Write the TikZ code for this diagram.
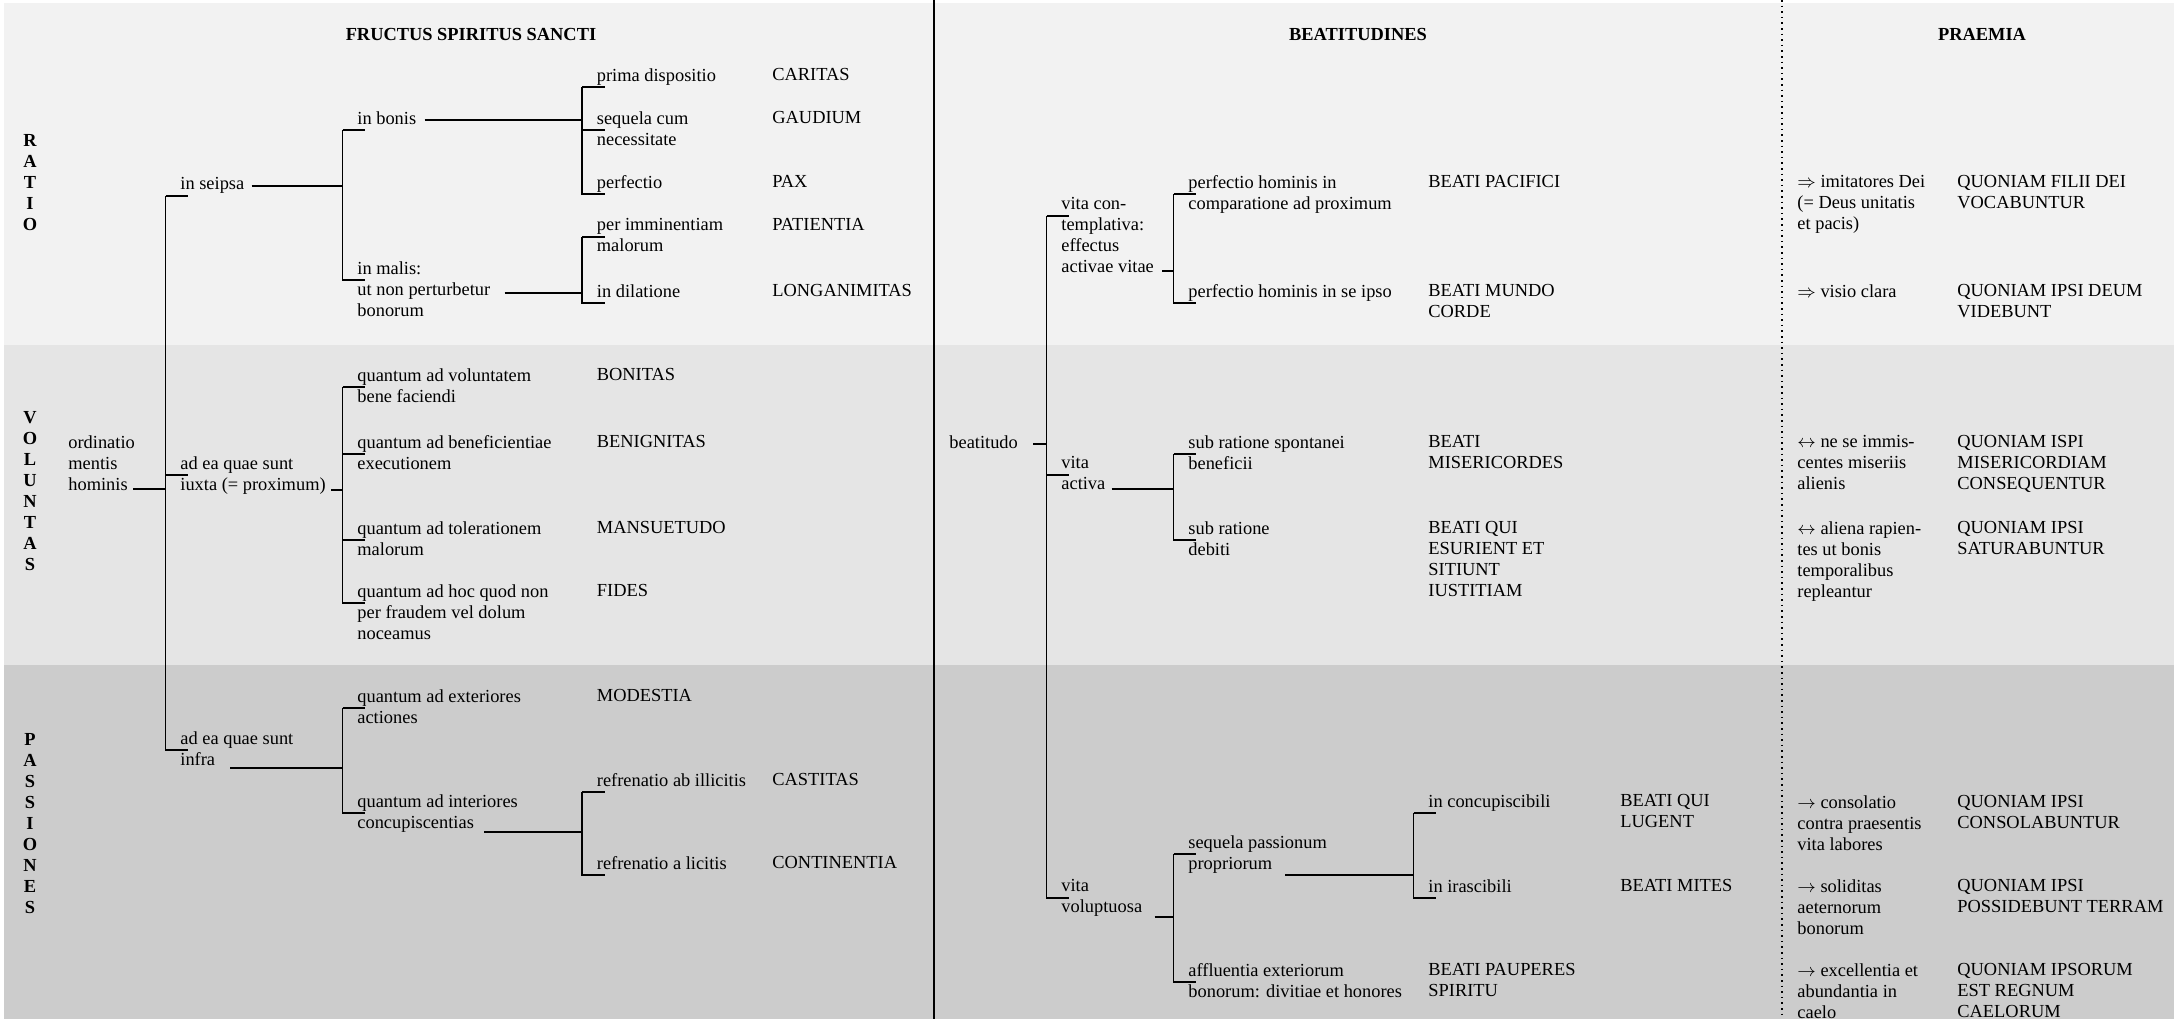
\documentclass[tikz,border=0pt]{standalone}
\usepackage{fontspec}
\setmainfont{Liberation Serif}
\usetikzlibrary{calc}

\definecolor{ratiobg}{gray}{0.95}
\definecolor{volbg}{gray}{0.9}
\definecolor{pasbg}{gray}{0.8}

\tikzset{
  txt/.style={anchor=north west, inner sep=0pt, align=left, font=\fontsize{9.2pt}{10.5pt}\selectfont},
  head/.style={anchor=base, inner sep=0pt, font=\fontsize{9.2pt}{10.5pt}\selectfont\bfseries},
  side/.style={anchor=north, inner sep=0pt, align=center, font=\fontsize{9.2pt}{10.5pt}\selectfont\bfseries},
  link/.style={line width=0.9pt},
}

\begin{document}
\begin{tikzpicture}[x=0.5pt, y=-0.5pt]
        % Bands
        \useasboundingbox (0,0) rectangle (2174,1019);
        \fill[white] (0,0) rectangle (2174,1019);
        \fill[ratiobg] (4,3) rectangle (2174,345);
        \fill[volbg] (4,345) rectangle (2174,665);
        \fill[pasbg] (4,665) rectangle (2174,1019);
        \draw[line width=1.4pt] (934,0) -- (934,1019);
        \draw[dotted, line width=0.8pt] (1782,0) -- (1782,1019);

        % Headings
        \node[head] (hfructus) at (471,40) {FRUCTUS SPIRITUS SANCTI};
        \node[head] (hbeat) at (1358,40) {BEATITUDINES};
        \node[head] (hpraemia) at (1982,40) {PRAEMIA};
        \node[side] (ratio) at (30,134) {R\\A\\T\\I\\O};
        \node[side] (voluntas) at (30,411) {V\\O\\L\\U\\N\\T\\A\\S};
        \node[side] (passiones) at (30,733) {P\\A\\S\\S\\I\\O\\N\\E\\S};

        % Fructus
        \node[txt] (ordinatio) at (68,435) {ordinatio\\mentis\\hominis};
        \node[txt] (seipsa) at (180,177) {in seipsa};
        \node[txt] (iuxta) at (180,456) {ad ea quae sunt\\iuxta (= proximum)};
        \node[txt] (infra) at (180,731) {ad ea quae sunt\\infra};
        \node[txt] (bonis) at (357,111) {in bonis};
        \node[txt] (malis) at (357,261) {in malis:\\ut non perturbetur\\bonorum};
        \node[txt] (prima) at (596.5,68) {prima dispositio};
        \node[txt] (sequela) at (596.5,111) {sequela cum\\necessitate};
        \node[txt] (perfectio) at (596.5,175) {perfectio};
        \node[txt] (imminentiam) at (596.5,218) {per imminentiam\\malorum};
        \node[txt] (dilatione) at (596.5,284) {in dilatione};
        \node[txt] (caritas) at (772,68) {CARITAS};
        \node[txt] (gaudium) at (772,111) {GAUDIUM};
        \node[txt] (pax) at (772,175) {PAX};
        \node[txt] (patientia) at (772,218) {PATIENTIA};
        \node[txt] (longanimitas) at (772,284) {LONGANIMITAS};
        \node[txt] (voluntatem) at (357,368) {quantum ad voluntatem\\bene faciendi};
        \node[txt] (beneficientiae) at (357,435) {quantum ad beneficientiae\\executionem};
        \node[txt] (tolerationem) at (357,521) {quantum ad tolerationem\\malorum};
        \node[txt] (hocquod) at (357,584) {quantum ad hoc quod non\\per fraudem vel dolum\\noceamus};
        \node[txt] (bonitas) at (596.5,368) {BONITAS};
        \node[txt] (benignitas) at (596.5,435) {BENIGNITAS};
        \node[txt] (mansuetudo) at (596.5,521) {MANSUETUDO};
        \node[txt] (fides) at (596.5,584) {FIDES};
        \node[txt] (exteriores) at (357,689) {quantum ad exteriores\\actiones};
        \node[txt] (interiores) at (357,794) {quantum ad interiores\\concupiscentias};
        \node[txt] (modestia) at (596.5,689) {MODESTIA};
        \node[txt] (illicitis) at (596.5,773) {refrenatio ab illicitis};
        \node[txt] (licitis) at (596.5,856) {refrenatio a licitis};
        \node[txt] (castitas) at (772,773) {CASTITAS};
        \node[txt] (continentia) at (772,856) {CONTINENTIA};

        % Beatitudines
        \node[txt] (beatitudo) at (949,435) {beatitudo};
        \node[txt] (contemplativa) at (1061,197) {vita con-\\templativa:\\effectus\\activae vitae};
        \node[txt] (activa) at (1061,456) {vita\\activa};
        \node[txt] (voluptuosa) at (1061,879) {vita\\voluptuosa};
        \node[txt] (comparatione) at (1188,175) {perfectio hominis in\\comparatione ad proximum};
        \node[txt] (seipso) at (1188,284) {perfectio hominis in se ipso};
        \node[txt] (pacifici) at (1428,175) {BEATI PACIFICI};
        \node[txt] (mundo) at (1428,284) {BEATI MUNDO\\CORDE};
        \node[txt] (spontanei) at (1188,435) {sub ratione spontanei\\beneficii};
        \node[txt] (debiti) at (1188,521) {sub ratione\\debiti};
        \node[txt] (misericordes) at (1428,435) {BEATI\\MISERICORDES};
        \node[txt] (esurient) at (1428,521) {BEATI QUI\\ESURIENT ET\\SITIUNT\\IUSTITIAM};
        \node[txt] (passionum) at (1188,835) {sequela passionum\\propriorum};
        \node[txt] (affluentia) at (1188,963) {affluentia exteriorum\\bonorum: divitiae et honores};
        \node[txt] (concupiscibili) at (1428,794) {in concupiscibili};
        \node[txt] (irascibili) at (1428,879) {in irascibili};
        \node[txt] (lugent) at (1620,794) {BEATI QUI\\LUGENT};
        \node[txt] (mites) at (1620,879) {BEATI MITES};
        \node[txt] (pauperes) at (1428,963) {BEATI PAUPERES\\SPIRITU};

        % Praemia
        \node[txt] (imitatores) at (1797,175) {$\Rightarrow$ imitatores Dei\\(= Deus unitatis\\et pacis)};
        \node[txt] (filii) at (1957,175) {QUONIAM FILII DEI\\VOCABUNTUR};
        \node[txt] (visio) at (1797,284) {$\Rightarrow$ visio clara};
        \node[txt] (deum) at (1957,284) {QUONIAM IPSI DEUM\\VIDEBUNT};
        \node[txt] (immiscentes) at (1797,435) {$\leftrightarrow$ ne se immis-\\centes miseriis\\alienis};
        \node[txt] (ispi) at (1957,435) {QUONIAM ISPI\\MISERICORDIAM\\CONSEQUENTUR};
        \node[txt] (rapientes) at (1797,521) {$\leftrightarrow$ aliena rapien-\\tes ut bonis\\temporalibus\\repleantur};
        \node[txt] (saturabuntur) at (1957,521) {QUONIAM IPSI\\SATURABUNTUR};
        \node[txt] (consolatio) at (1797,795) {$\rightarrow$ consolatio\\contra praesentis\\vita labores};
        \node[txt] (consolabuntur) at (1957,795) {QUONIAM IPSI\\CONSOLABUNTUR};
        \node[txt] (soliditas) at (1797,879) {$\rightarrow$ soliditas\\aeternorum\\bonorum};
        \node[txt] (possidebunt) at (1957,879) {QUONIAM IPSI\\POSSIDEBUNT TERRAM};
        \node[txt] (excellentia) at (1797,963) {$\rightarrow$ excellentia et\\abundantia in\\caelo};
        \node[txt] (caelorum) at (1957,963) {QUONIAM IPSORUM\\EST REGNUM\\CAELORUM};

        % Brackets, Fructus
        \draw[link] ($(ordinatio.north west)+(65,54)$) -| ($(seipsa.north west)+(-14.5,19)$) |- ($(infra.north west)+(8,19)$);
        \foreach \c in {seipsa,iuxta} \draw[link] ($(\c.north west)+(-14.5,19)$) -- +(22.5,0);
        \draw[link] ($(seipsa.north east)+(7,9)$) -| ($(bonis.north west)+(-14.5,19)$) |- ($(malis.north west)+(8,19)$);
        \draw[link] ($(bonis.north west)+(-14.5,19)$) -- +(22.5,0);
        \draw[link] ($(bonis.north east)+(8,9)$) -| ($(prima.north west)+(-14.5,19)$) |- ($(perfectio.north west)+(8,19)$);
        \foreach \c in {prima,sequela} \draw[link] ($(\c.north west)+(-14.5,19)$) -- +(22.5,0);
        \draw[link] ($(malis.north east)+(14,32)$) -| ($(imminentiam.north west)+(-14.5,19)$) |- ($(dilatione.north west)+(8,19)$);
        \draw[link] ($(imminentiam.north west)+(-14.5,19)$) -- +(22.5,0);
        \draw[link] ($(iuxta.north east)+(5,34)$) -| ($(voluntatem.north west)+(-14.5,19)$) |- ($(hocquod.north west)+(8,19)$);
        \foreach \c in {voluntatem,beneficientiae,tolerationem} \draw[link] ($(\c.north west)+(-14.5,19)$) -- +(22.5,0);
        \draw[link] ($(infra.north west)+(50,37)$) -| ($(exteriores.north west)+(-14.5,19)$) |- ($(interiores.north west)+(8,19)$);
        \draw[link] ($(exteriores.north west)+(-14.5,19)$) -- +(22.5,0);
        \draw[link] ($(interiores.north west)+(127,38)$) -| ($(illicitis.north west)+(-14.5,19)$) |- ($(licitis.north west)+(8,19)$);
        \draw[link] ($(illicitis.north west)+(-14.5,19)$) -- +(22.5,0);

        % Brackets, Beatitudines
        \draw[link] ($(beatitudo.north east)+(15,9)$) -| ($(contemplativa.north west)+(-14.5,19)$) |- ($(voluptuosa.north west)+(8,19)$);
        \foreach \c in {contemplativa,activa} \draw[link] ($(\c.north west)+(-14.5,19)$) -- +(22.5,0);
        \draw[link] ($(contemplativa.north east)+(8,74)$) -| ($(comparatione.north west)+(-14.5,19)$) |- ($(seipso.north west)+(8,19)$);
        \draw[link] ($(comparatione.north west)+(-14.5,19)$) -- +(22.5,0);
        \draw[link] ($(activa.north east)+(6,33)$) -| ($(spontanei.north west)+(-14.5,19)$) |- ($(debiti.north west)+(8,19)$);
        \draw[link] ($(spontanei.north west)+(-14.5,19)$) -- +(22.5,0);
        \draw[link] ($(voluptuosa.north east)+(12,38)$) -| ($(passionum.north west)+(-14.5,19)$) |- ($(affluentia.north west)+(8,19)$);
        \draw[link] ($(passionum.north west)+(-14.5,19)$) -- +(22.5,0);
        \draw[link] ($(passionum.north west)+(97,40)$) -| ($(concupiscibili.north west)+(-14.5,19)$) |- ($(irascibili.north west)+(8,19)$);
        \draw[link] ($(concupiscibili.north west)+(-14.5,19)$) -- +(22.5,0);
    \end{tikzpicture}
\end{document}
